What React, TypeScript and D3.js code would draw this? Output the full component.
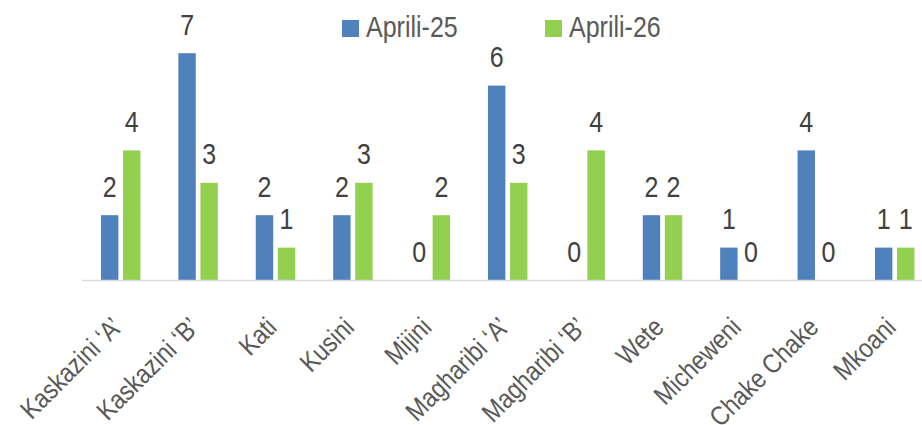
import React from 'react';
import * as d3 from 'd3';

const categories = [
  "Kaskazini 'A'", "Kaskazini 'B'", 'Kati', 'Kusini', 'Mijini', "Magharibi 'A'",
  "Magharibi 'B'", 'Wete', 'Micheweni', 'Chake Chake', 'Mkoani',
];
const seriesNames = ['Aprili-25', 'Aprili-26'];
const april25 = [2, 7, 2, 2, 0, 6, 0, 2, 1, 4, 1];
const april26 = [4, 3, 1, 3, 2, 3, 4, 2, 0, 0, 1];
const seriesColors = ['#4F81BD', '#92D050'];

const W = 922;
const H = 425;
const baseY = 280;
const FONT = '"Liberation Sans", Arial, sans-serif';

const App: React.FC = () => {
  const x0 = d3.scaleBand<string>()
    .domain(categories)
    .range([82, 933.4])
    .paddingInner(0.49)
    .paddingOuter(0.245);
  const x1 = d3.scaleBand<string>()
    .domain(seriesNames)
    .range([0, x0.bandwidth()])
    .paddingInner(0.21);
  const y = d3.scaleLinear().domain([0, 8]).range([baseY, baseY - 8 * 32.4]);

  const series = [april25, april26];

  return (
    <svg width={W} height={H} style={{ position: 'absolute', left: 0, top: 0, background: '#fff' }}
      fontFamily={FONT}>
      {/* bars */}
      {categories.map((c, i) => (
        <g key={c} transform={`translate(${x0(c)},0)`}>
          {seriesNames.map((s, k) => {
            const v = series[k][i];
            const bx = x1(s)!;
            const bw = x1.bandwidth();
            return (
              <g key={s}>
                {v > 0 && (
                  <rect x={bx} y={y(v)} width={bw} height={baseY - y(v)} fill={seriesColors[k]} />
                )}
                <text transform={`translate(${bx + bw / 2},${y(v) - 18.5}) scale(1,1.2)`}
                  textAnchor="middle" fontSize={25} fill="#404040">{v}</text>
              </g>
            );
          })}
        </g>
      ))}

      {/* axis line */}
      <line x1={82} x2={W} y1={baseY + 0.5} y2={baseY + 0.5} stroke="#D9D9D9" strokeWidth={1.5} />

      {/* category labels */}
      {categories.map(c => {
        const cx = x0(c)! + x0.bandwidth() / 2;
        return (
          <text key={c} transform={`translate(${cx - 11},${baseY + 35}) rotate(-45) scale(0.86,1)`}
            textAnchor="end" dy="0.72em" fontSize={27} fill="#595959">
            {c.replace(/'/g, '\u2018').replace(/\u2018$/, '\u2019')}
          </text>
        );
      })}

      {/* legend */}
      {seriesNames.map((s, k) => {
        const lx = k === 0 ? 342 : 545;
        return (
          <g key={s}>
            <rect x={lx} y={20} width={17} height={17} fill={seriesColors[k]} />
            <text transform={`translate(${lx + 24},37) scale(1,1.2)`} fontSize={25} fill="#595959">{s}</text>
          </g>
        );
      })}
    </svg>
  );
};

export default App;
